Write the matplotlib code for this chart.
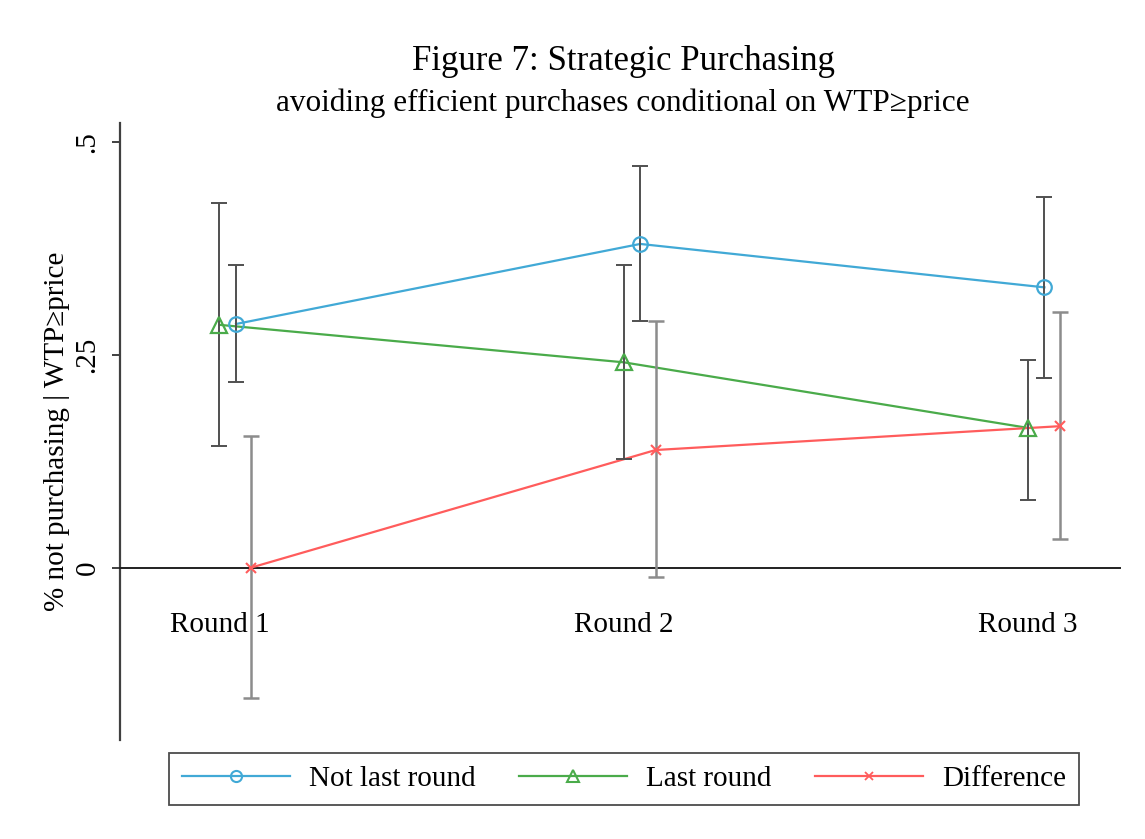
import matplotlib
matplotlib.use("Agg")
import matplotlib.pyplot as plt
from matplotlib.lines import Line2D
import numpy as np

# Data: share not purchasing given WTP >= price, with 95% CI bounds
rounds = ["Round 1", "Round 2", "Round 3"]
round_pos = [1, 2, 3]

not_last = [0.286, 0.380, 0.329]
not_last_lo = [0.218, 0.289, 0.223]
not_last_hi = [0.355, 0.472, 0.435]

last = [0.285, 0.241, 0.164]
last_lo = [0.143, 0.128, 0.079]
last_hi = [0.428, 0.355, 0.244]

diff = [0.000, 0.138, 0.166]
diff_lo = [-0.153, -0.011, 0.033]
diff_hi = [0.155, 0.289, 0.300]

yticks = [0, 0.25, 0.5]
yticklabels = ["0", ".25", ".5"]

title = "Figure 7: Strategic Purchasing"
subtitle = "avoiding efficient purchases conditional on WTP\u2265price"
ylabel = "% not purchasing | WTP\u2265price"
series_names = ["Not last round", "Last round", "Difference"]

# Styling
SERIF = ["Liberation Serif", "DejaVu Serif"]
plt.rcParams["font.family"] = SERIF
BLUE = "#41a9d6"
GREEN = "#4aab4a"
RED = "#ff5c5c"
CI_DARK = "#505050"
CI_LIGHT = "#8c8c8c"

W, H = 1145, 839
fig = plt.figure(figsize=(W / 100, H / 100), dpi=100)
fig.patch.set_facecolor("white")
ax = fig.add_axes([120 / W, 1 - 740 / H, 1000 / W, (740 - 123) / H])

x = np.array(round_pos, dtype=float)
offsets = {"last": 0.0, "not_last": 0.041, "diff": 0.079}


def draw_series(xs, y, lo, hi, color, marker, ms, ci_color, ci_lw, mew):
    y = np.asarray(y)
    yerr = np.vstack([y - np.asarray(lo), np.asarray(hi) - y])
    ax.plot(xs, y, color=color, lw=1.6, zorder=3)
    ax.errorbar(xs, y, yerr=yerr, fmt="none", ecolor=ci_color, elinewidth=ci_lw,
                capsize=5.5, capthick=ci_lw, zorder=4)
    ax.plot(xs, y, ls="none", marker=marker, ms=ms, mfc="none", mec=color,
            mew=mew, zorder=5)


draw_series(x + offsets["not_last"], not_last, not_last_lo, not_last_hi,
            BLUE, "o", 10.5, CI_DARK, 1.4, 1.6)
draw_series(x + offsets["last"], last, last_lo, last_hi,
            GREEN, "^", 11, CI_DARK, 1.4, 1.6)
draw_series(x + offsets["diff"], diff, diff_lo, diff_hi,
            RED, "x", 7, CI_LIGHT, 1.8, 1.5)

ax.set_xlim(0.754, 3.228)
ax.set_ylim(-0.2025, 0.522)

# Axes: left spine, zero line as bottom spine, no frame elsewhere
for s in ["top", "right"]:
    ax.spines[s].set_visible(False)
ax.spines["left"].set_color("#404040")
ax.spines["left"].set_linewidth(1.6)
ax.spines["bottom"].set_position(("data", 0))
ax.spines["bottom"].set_color("#202020")
ax.spines["bottom"].set_linewidth(1.4)

ax.set_yticks(yticks)
ax.set_yticklabels(yticklabels, rotation=90, va="center", fontsize=21)
ax.tick_params(axis="y", length=6, width=1.4, color="#404040", pad=8)

ax.set_xticks(round_pos)
ax.set_xticklabels(rounds, fontsize=21)
ax.tick_params(axis="x", length=0, pad=32)

ax.set_ylabel(ylabel, fontsize=21, labelpad=3)

fig.text(623 / W, 1 - 61 / H, title, ha="center", va="center", fontsize=25)
fig.text(623 / W, 1 - 103 / H, subtitle, ha="center", va="center", fontsize=22.5)

handles = [
    Line2D([], [], color=BLUE, lw=1.6, marker="o", ms=8, mfc="none", mec=BLUE, mew=1.5),
    Line2D([], [], color=GREEN, lw=1.6, marker="^", ms=8, mfc="none", mec=GREEN, mew=1.5),
    Line2D([], [], color=RED, lw=1.6, marker="x", ms=6, mec=RED, mew=1.3),
]
leg = fig.legend(handles, series_names, loc="center", ncol=3,
                 bbox_to_anchor=(624 / W, 1 - 779 / H), fontsize=21,
                 frameon=True, fancybox=False, edgecolor="#202020",
                 handlelength=3.7, handletextpad=0.65, columnspacing=1.5,
                 borderpad=0.45, borderaxespad=0)
leg.get_frame().set_linewidth(1.3)

fig.savefig("out.png", dpi=100, facecolor="white")
